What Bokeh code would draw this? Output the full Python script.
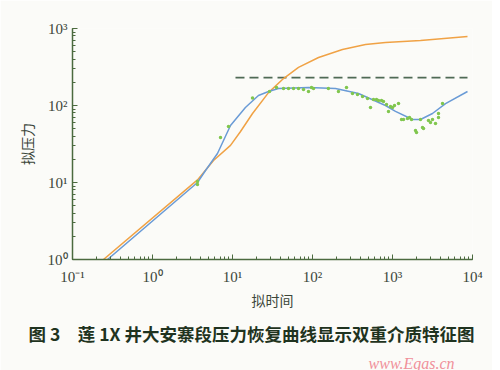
from bokeh.plotting import figure
from bokeh.models import CustomJSTickFormatter, Title
from bokeh.embed import file_html
from bokeh.resources import INLINE

# ---- data ----
orange_t = [0.244, 3.65, 5.79, 9.44, 12.6, 17.8, 28.2, 43.4, 66.8, 119, 237, 460, 817, 2240, 8660]
orange_p = [1.0, 10.8, 19.3, 30.3, 46.0, 78.7, 147, 224, 312, 420, 534, 620, 658, 698, 787]

blue_t = [0.274, 3.65, 4.6, 6.49, 9.44, 14.5, 21.1, 28.2, 37.6, 89, 194, 376, 817,
          1090, 1778, 2240, 3160, 4600, 8660]
blue_p = [1.0, 10.0, 14.3, 23.8, 55, 94, 135, 152, 166, 171, 166, 143, 100,
          84, 65.8, 65.8, 78.7, 106, 152]

pts_t = [3.65, 3.65, 7.08, 8.91, 17.8,
         29.0, 35.5, 43.4, 50.1, 57.9, 66.8, 77.2, 89.1, 97.2, 103, 158, 211, 266, 316, 365,
         422, 487, 531, 579, 631, 668, 729, 772, 841, 891, 944, 1000, 1059, 1189,
         1296, 1372, 1540, 1631, 1728, 1939, 1995, 2239, 2371, 2441, 2818, 2985, 3162,
         3447, 3758, 3758, 4217]
pts_p = [10.3, 9.4, 38.4, 53.4, 125,
         152, 171, 166, 166, 166, 166, 161, 152, 171, 166, 166, 152, 171, 143, 139,
         131, 123, 94.2, 120, 120, 116, 116, 113, 103, 83.6, 97, 94.2, 100, 106,
         65.8, 65.8, 67.7, 69.8, 65.8, 47.4, 44.6, 65.8, 51.8, 50.3, 63.8, 60.1, 65.8,
         58.4, 69.8, 78.7, 106]

dash_t = [10.9, 8660]
dash_p = [230, 230]

x_label = "拟时间"
y_label = "拟压力"
caption = "图 3　莲 1X 井大安寨段压力恢复曲线显示双重介质特征图"
watermark = "www.Egas.cn"

bg = "#fbfbf8"
axis_col = "#4b6a3f"
txt_col = "#3c463a"

p = figure(x_axis_type="log", y_axis_type="log",
           x_range=(0.1, 10000), y_range=(1, 1000),
           frame_width=400, frame_height=231,
           min_border_left=72, min_border_right=20, min_border_top=28, min_border_bottom=108,
           output_backend="svg", toolbar_location=None,
           background_fill_color=bg, border_fill_color=bg)
p.outline_line_color = None
p.grid.grid_line_color = None

fmt = CustomJSTickFormatter(code="""
const sup = {"-":"\u207b","0":"\u2070","1":"\u00b9","2":"\u00b2","3":"\u00b3","4":"\u2074",
             "5":"\u2075","6":"\u2076","7":"\u2077","8":"\u2078","9":"\u2079"};
const e = Math.round(Math.log10(tick));
return "10" + String(e).split("").map(c => sup[c]).join("");
""")

for ax in (p.xaxis[0], p.yaxis[0]):
    ax.formatter = fmt
    ax.axis_line_color = axis_col
    ax.axis_line_width = 1.5
    ax.major_tick_line_color = axis_col
    ax.minor_tick_line_color = axis_col
    ax.major_tick_in = 5
    ax.major_tick_out = 0
    ax.minor_tick_in = 3
    ax.minor_tick_out = 0
    ax.major_label_text_font = "Liberation Serif"
    ax.major_label_text_font_size = "15px"
    ax.major_label_text_color = txt_col
    ax.axis_label_text_font = "Noto Sans CJK SC"
    ax.axis_label_text_font_size = "14px"
    ax.axis_label_text_font_style = "normal"
    ax.axis_label_text_color = txt_col

p.xaxis.axis_label = x_label
p.yaxis.axis_label = y_label
p.xaxis.major_label_standoff = 9
p.yaxis.major_label_standoff = 5
p.xaxis.axis_label_standoff = 2
p.yaxis.axis_label_standoff = 8

p.line(dash_t, dash_p, line_color="#4f6a55", line_width=1.6, line_dash="9 5")
p.line(orange_t, orange_p, line_color="#f0a245", line_width=1.5)
p.line(blue_t, blue_p, line_color="#6a9bd6", line_width=1.5)
p.scatter(pts_t, pts_p, size=3.5, color="#80c64e", line_color=None)

p.add_layout(Title(text=caption, align="left", offset=-44, standoff=13,
                   text_font="Noto Sans CJK SC", text_font_size="17.5px",
                   text_font_style="bold", text_color="#1f3320"), "below")
p.add_layout(Title(text=watermark, align="right", offset=18, standoff=0,
                   text_font="Liberation Serif", text_font_size="16px",
                   text_font_style="italic", text_color="#f0909a"), "below")

open("out.html", "w").write(file_html(p, INLINE))
